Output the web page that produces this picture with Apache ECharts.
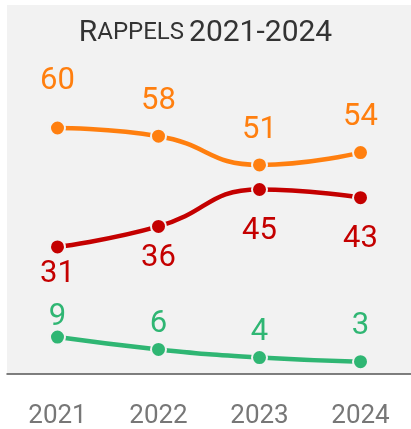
<!DOCTYPE html>
<html><head><meta charset="utf-8">
<script src="https://cdn.jsdelivr.net/npm/echarts@6/dist/echarts.min.js"></script>
<style>html,body{margin:0;padding:0;background:#fff}#c{width:411px;height:429px}</style>
</head><body><div id="c"></div>
<script>
var years = ['2021', '2022', '2023', '2024'];
var orangeValues = [60, 58, 51, 54];
var redValues = [31, 36, 45, 43];
var greenValues = [9, 6, 4, 3];

// label vertical offsets (px, relative to the point centre)
var orangeOffsets = [-47, -35, -35, -35];
var redOffsets = [27, 32, 42, 42];
var greenOffsets = [-20, -25, -25, -35];

var BG = '#f2f2f2';
function mk(values, offs) {
  return values.map(function (v, i) { return { value: v, label: { offset: [0, offs[i]] } }; });
}
function series(name, color, values, offs) {
  return {
    name: name, type: 'line', smooth: true,
    data: mk(values, offs),
    symbol: 'circle', symbolSize: 15,
    lineStyle: { color: color, width: 4.5 },
    itemStyle: { color: color, borderColor: BG, borderWidth: 2 },
    label: { show: true, position: 'inside', color: color, fontSize: 31, fontWeight: 400, fontFamily: 'Roboto' },
    emphasis: { disabled: true }
  };
}
var chart = echarts.init(document.getElementById('c'));
chart.setOption({
  animation: false,
  title: {
    text: '{a|R}{b|APPELS} {a|2021-2024}',
    left: 'center', top: 13,
    textStyle: {
      rich: {
        a: { fontSize: 30, fontWeight: 400, fontFamily: 'Roboto', color: '#333' },
        b: { fontSize: 24, fontWeight: 400, fontFamily: 'Roboto', color: '#333' }
      }
    }
  },
  grid: { left: 7, right: 0, top: 5, bottom: 54, show: true, backgroundColor: BG, borderWidth: 0 },
  xAxis: {
    type: 'category', data: years, boundaryGap: true,
    axisLine: { lineStyle: { color: '#555', width: 1.5 } },
    axisTick: { show: false },
    axisLabel: { fontSize: 26, fontWeight: 400, color: '#777', fontFamily: 'Roboto', margin: 29 }
  },
  yAxis: { type: 'value', min: 0, max: 90, show: false, splitLine: { show: false } },
  series: [
    series('orange', '#ff7f0f', orangeValues, orangeOffsets),
    series('red', '#c40000', redValues, redOffsets),
    series('green', '#2fb673', greenValues, greenOffsets)
  ]
});
</script></body></html>
